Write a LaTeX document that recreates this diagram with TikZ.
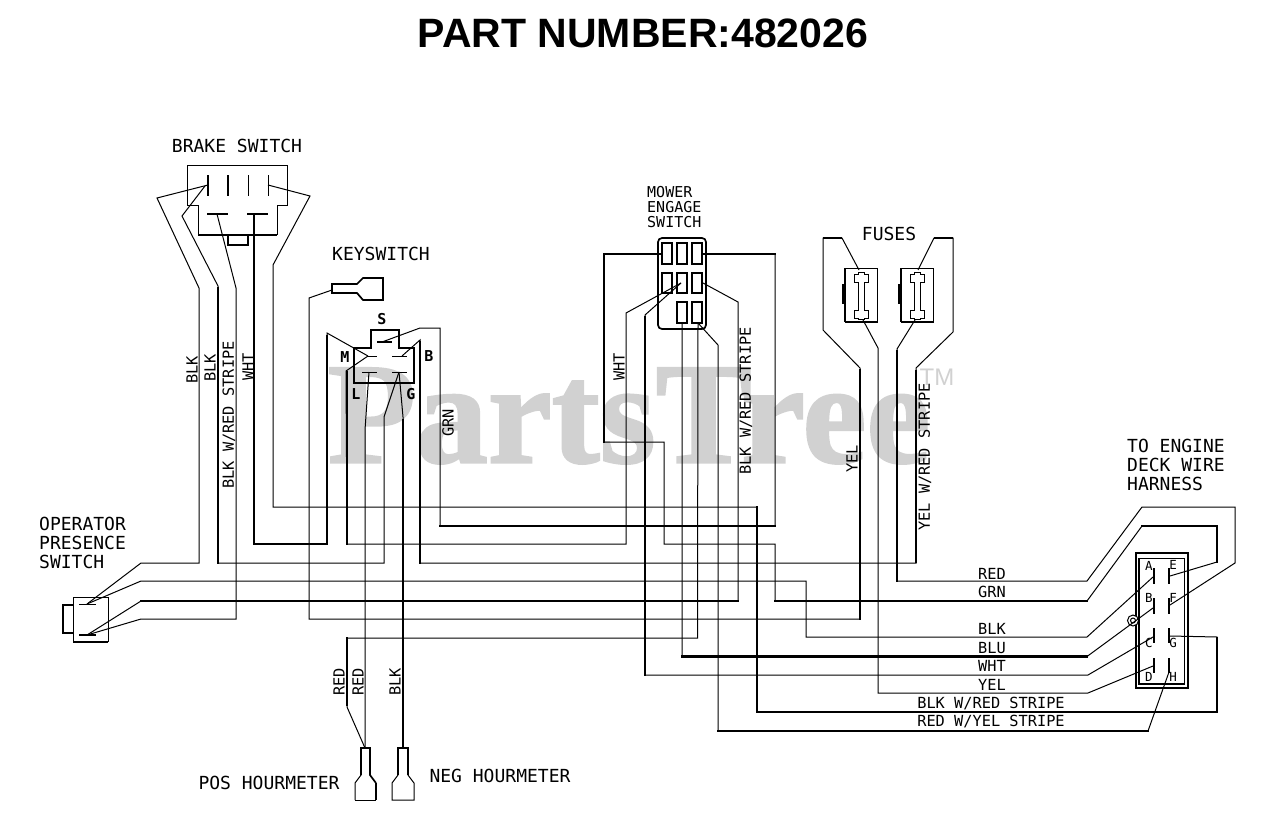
\documentclass[tikz,border=0pt]{standalone}
\usepackage{fontspec}
\setmainfont{Liberation Sans}
\newfontfamily\plotfont{DejaVu Sans Mono}
\newfontfamily\markfont[BoldFeatures={FakeBold=1.6}]{Liberation Serif}
\begin{document}
\begin{tikzpicture}[x=1pt,y=-1pt,
  wi/.style={line width=1pt,line join=miter},
  wt/.style={line width=2.5pt,line join=miter,line cap=rect},
  wm/.style={line width=1.7pt,line join=miter},
  lab/.style={inner sep=0pt,font=\plotfont\fontsize{15.3}{15.3}\selectfont},
  big/.style={inner sep=0pt,align=left,font=\plotfont\fontsize{18}{18.6}\selectfont},
  mow/.style={inner sep=0pt,align=left,font=\plotfont\fontsize{15}{15.4}\selectfont},
  pin/.style={inner sep=0pt,font=\plotfont\fontsize{12.5}{12.5}\selectfont},
  kpin/.style={inner sep=0pt,font=\plotfont\bfseries\fontsize{15}{15}\selectfont}]
\useasboundingbox (0,0) rectangle (1280,838);
\fill[white] (0,0) rectangle (1280,838);
% watermark
\node[inner sep=0pt,text=black!18,font=\markfont\bfseries\fontsize{144}{144}\selectfont] (wm) at (629,416) {PartsTree};
\node[inner sep=0pt,text=black!18,font=\fontsize{24}{24}\selectfont] (tm) at (937,377) {TM};
% title
\node[inner sep=0pt,font=\bfseries\fontsize{41}{41}\selectfont] (title) at (643,33) {PART NUMBER:482026};
% named terminals
\coordinate (bkA) at (208,185);
\coordinate (bkA2) at (205,186);
\coordinate (bkB) at (268,185);
\coordinate (bkC) at (217,214);
\coordinate (bkD) at (254,214);
\coordinate (osA) at (87,604);
\coordinate (osD) at (87,635);
\coordinate (kS) at (382,342);
\coordinate (kM) at (368,356);
\coordinate (kB) at (402,356);
\coordinate (kL) at (369,372);
\coordinate (kG) at (399,372);
\coordinate (ksw) at (332,290);
\coordinate (posH) at (365,748);
\coordinate (negH) at (403,748);
\coordinate (meL) at (662,254);
\coordinate (meR) at (702,254);
\coordinate (meM) at (681,283);
\coordinate (meE) at (703,283);
\coordinate (me7) at (682,323);
\coordinate (me8) at (698,323);
\coordinate (fuA) at (859,270);
\coordinate (fuB) at (863,320);
\coordinate (fuC) at (918,270);
\coordinate (fuD) at (915,320);
\coordinate (hA) at (1153,577);
\coordinate (hB) at (1153,608);
\coordinate (hC) at (1153,637);
\coordinate (hD) at (1153,666);
\coordinate (hE) at (1170,576);
\coordinate (hF) at (1170,605);
\coordinate (hG) at (1170,636);
\coordinate (hH) at (1169,672);
% brake switch
\draw[wi] (198,205) -- (187,205) -- (187,165) -- (287,165) -- (287,205) -- (277,205);
\draw[wi] (198,205) -- (198,235);
\draw[wi] (277,205) -- (277,235);
\draw[wm] (198,235) -- (277,235);
\draw[wm] (228,235) -- (228,245) -- (248,245) -- (248,235);
\draw[wm] (208,175) -- (208,196);
\draw[wm] (228,175) -- (228,196);
\draw[wi] (248,175) -- (248,196);
\draw[wi] (268,175) -- (268,196);
\draw[wm] (207,214) -- (228,214);
\draw[wm] (247,214) -- (268,214);
% keyswitch body
\draw[wm] (354,348) -- (371,348) -- (371,330) -- (399,330) -- (399,348) -- (414,348) -- (414,383) -- (354,383) -- cycle;
\draw[wm] (377,342) -- (392,342);
\draw[wi] (368,356) -- (377,356);
\draw[wi] (392,356) -- (407,356);
\draw[wi] (362,372) -- (377,372);
\draw[wi] (392,372) -- (407,372);
% key connector
\draw[wm] (332,284) -- (357,284) -- (363,278) -- (383,278) -- (383,300) -- (363,300) -- (357,293) -- (332,293) -- cycle;
% mower engage switch
\draw[wm,rounded corners=4pt] (658,238) rectangle (706,329);
\foreach \xa in {662,677,692} {
  \draw[wm] (\xa,243) rectangle (\xa+10,264);
  \draw[wm] (\xa,273) rectangle (\xa+10,293);
}
\foreach \xa in {677,692} \draw[wm] (\xa,302) rectangle (\xa+10,323);
% fuses
\foreach \fx/\cx in {845/861,901/917} {
  \draw[wi] (\fx,268) rectangle (\fx+32,322);
  \draw[wm] (\fx,322) -- (\fx+32,322);
  \draw[wm] (\fx,268) -- (\fx,322);
  \draw[wm] (\fx,285) -- (\fx-2,285) -- (\fx-2,303) -- (\fx,303);
  \draw[wi,fill=white] (\cx-3,272) -- (\cx+3,272) -- (\cx+3,274) -- (\cx+7,274) -- (\cx+7,282) -- (\cx+3,282) -- (\cx+3,310) -- (\cx+7,310) -- (\cx+7,318) -- (\cx+3,318) -- (\cx+3,319) -- (\cx-3,319) -- (\cx-3,318) -- (\cx-7,318) -- (\cx-7,310) -- (\cx-3,310) -- (\cx-3,282) -- (\cx-7,282) -- (\cx-7,274) -- (\cx-3,274) -- cycle;
}
% harness connector
\draw[wm] (1136,553) rectangle (1188,688);
\draw[wi] (1139,558) rectangle (1184,684);
\draw[wi,fill=white] (1133,620.5) circle (5.5);
\draw[wi] (1133,620.5) circle (2.5);
\draw[wm] (1139,558) -- (1139,684) -- (1184,684);
\foreach \ya/\yb in {568/584,598/614,628/643,658/673} {
  \draw[wm] (1154,\ya) -- (1154,\yb);
  \draw[wm] (1169,\ya) -- (1169,\yb);
}
% operator switch
\draw[wi] (108,642) -- (108,597) -- (73,597) -- (73,642);
\draw[wm] (73,642) -- (108,642);
\draw[wm] (73,605) -- (63,605) -- (63,633) -- (73,633);
\draw[wi] (79,604) -- (96,604);
\draw[wm] (79,635) -- (96,635);
% hourmeter connectors
\draw[wm] (361,775) -- (361,748) -- (370,748) -- (370,775) -- (376,783);
\draw[wi] (361,775) -- (355,783) -- (355,800);
\draw[wm] (376,783) -- (376,800);
\draw[wi] (355,800) -- (376,800);
\draw[wm] (398,775) -- (398,748) -- (408,748) -- (408,775);
\draw[wi] (408,775) -- (414,783) -- (414,800) -- (392,800) -- (392,783) -- (398,775);
% ---- wires: thin base path
\draw[wi] (bkA) -- (157,198) -- (199,288) -- (199,563) -- (141,563) -- (osA);
\draw[wi] (bkA2) -- (182,216) -- (218,286) -- (218,563) -- (384,563) -- (384,417) -- (kG);
\draw[wi] (bkC) -- (236,288) -- (236,619) -- (141,619) -- (osD);
\draw[wi] (bkD) -- (254,544) -- (327,544) -- (327,333) -- (kM);
\draw[wi] (bkB) -- (310,196) -- (273,265) -- (273,507) -- (757,507) -- (757,712) -- (1217,712) -- (1217,637) -- (hG);
\draw[wi] (ksw) -- (309,298) -- (309,619) -- (860,619) -- (860,368) -- (823,330) -- (823,238) -- (842,238) -- (fuA);
\draw[wi] (kM) -- (346,371) -- (347,544) -- (626,544) -- (626,313) -- (meM);
\draw[wi] (kS) -- (420,328) -- (440,328) -- (440,526) -- (775,526) -- (775,254) -- (meR);
\draw[wi] (kB) -- (420,340) -- (420,563) -- (916,563) -- (916,368) -- (953,332) -- (953,238) -- (934,238) -- (fuC);
\draw[wi] (kL) -- (365,430) -- (posH);
\draw[wi] (kG) -- (403,417) -- (negH);
\draw[wi] (posH) -- (347,707) -- (347,638) -- (697.5,638) -- (me8);
\draw[wi] (meL) -- (604,254) -- (604,442) -- (664,442) -- (664,544) -- (775,544) -- (775,601) -- (1087,601) -- (1142,526) -- (1217,526) -- (1217,562) -- (hE);
\draw[wi] (meM) -- (645,315) -- (645,675) -- (1088,675) -- (hC);
\draw[wi] (meE) -- (738,302) -- (738,601) -- (141,601) -- (osD);
\draw[wi] (osA) -- (141,581) -- (806,581) -- (806,637) -- (1087,637) -- (hA);
\draw[wi] (me7) -- (682,656.5) -- (1087,656.5) -- (hB);
\draw[wi] (me8) -- (718,345) -- (718,731) -- (1148,731) -- (hH);
\draw[wi] (fuB) -- (878,348) -- (878,693) -- (1088,693) -- (hD);
\draw[wi] (fuD) -- (897,349) -- (897,581) -- (1087,581) -- (1142,507) -- (1235,507) -- (1235,563) -- (hF);
% ---- wires: heavy runs
\draw[wt] (218,288) -- (218,563);
\draw[wt] (254,214) -- (254,544) -- (327,544) -- (327,336);
\draw[wt] (347,372) -- (347,544);
\draw[wt] (403,420) -- (403,748);
\draw[wt] (420,342) -- (420,563);
\draw[wt] (347,638) -- (347,705);
\draw[wt] (440,526) -- (775,526);
\draw[wt] (702,254) -- (775,254);
\draw[wt] (662,254) -- (604,254) -- (604,442);
\draw[wt] (645,317) -- (645,675);
\draw[wt] (682,656.5) -- (1087,656.5);
\draw[wt] (718,731) -- (1148,731);
\draw[wt] (757,507) -- (757,712);
\draw[wm] (757,712) -- (1217,712) -- (1217,637);
\draw[wt] (860,619) -- (860,370);
\draw[wm] (823,238) -- (842,238);
\draw[wm] (953,238) -- (934,238);
\draw[wt] (897,351) -- (897,581);
\draw[wm] (916,370) -- (916,563);
\draw[wt] (141,601) -- (738,601);
\draw[wt] (775,601) -- (1087,601);
\draw[wt] (1142,526) -- (1217,526) -- (1217,562);
% ---- component titles
\node[big] (t1) at (237,146) {BRAKE SWITCH};
\node[big] (t2) at (381,254) {KEYSWITCH};
\node[mow,anchor=west] (t3) at (647,207) {MOWER\\ENGAGE\\SWITCH};
\node[big] (t4) at (889,234) {FUSES};
\node[big,anchor=west] (t5) at (1127,465) {TO ENGINE\\DECK WIRE\\HARNESS};
\node[big,anchor=west] (t6) at (39,543) {OPERATOR\\PRESENCE\\SWITCH};
\node[big] (t7) at (269,783) {POS HOURMETER};
\node[big] (t8) at (500,776) {NEG HOURMETER};
% keyswitch letters
\node[kpin] (S) at (382,319) {S};
\node[kpin] (M) at (345,357) {M};
\node[kpin] (B) at (429,356) {B};
\node[kpin] (L) at (356,394) {L};
\node[kpin] (G) at (411,394) {G};
% harness letters
\node[pin] (pA) at (1149,566) {A};
\node[pin] (pE) at (1173,565) {E};
\node[pin] (pB) at (1149,598) {B};
\node[pin] (pF) at (1173,598) {F};
\node[pin] (pC) at (1149,643) {C};
\node[pin] (pG) at (1173,643) {G};
\node[pin] (pD) at (1149,677) {D};
\node[pin] (pH) at (1173,677) {H};
% vertical wire labels
\node[lab,rotate=90] (v1) at (192,370) {BLK};
\node[lab,rotate=90] (v2) at (210,368) {BLK};
\node[lab,rotate=90] (v3) at (229,415) {BLK W/RED STRIPE};
\node[lab,rotate=90] (v4) at (248,367) {WHT};
\node[lab,rotate=90] (v5) at (448,423) {GRN};
\node[lab,rotate=90] (v6) at (619,367) {WHT};
\node[lab,rotate=90] (v7) at (746,401) {BLK W/RED STRIPE};
\node[lab,rotate=90] (v8) at (852,459) {YEL};
\node[lab,rotate=90] (v9) at (925,457) {YEL W/RED STRIPE};
\node[lab,rotate=90] (v10) at (339,682) {RED};
\node[lab,rotate=90] (v11) at (358,682) {RED};
\node[lab,rotate=90] (v12) at (395,682) {BLK};
% horizontal wire labels
\node[lab] (h1) at (992,574) {RED};
\node[lab] (h2) at (992,592) {GRN};
\node[lab] (h3) at (992,629) {BLK};
\node[lab] (h4) at (992,648) {BLU};
\node[lab] (h5) at (992,666) {WHT};
\node[lab] (h6) at (992,685) {YEL};
\node[lab] (h7) at (991,704) {BLK W/RED STRIPE};
\node[lab] (h8) at (991,722) {RED W/YEL STRIPE};
\end{tikzpicture}
\end{document}
